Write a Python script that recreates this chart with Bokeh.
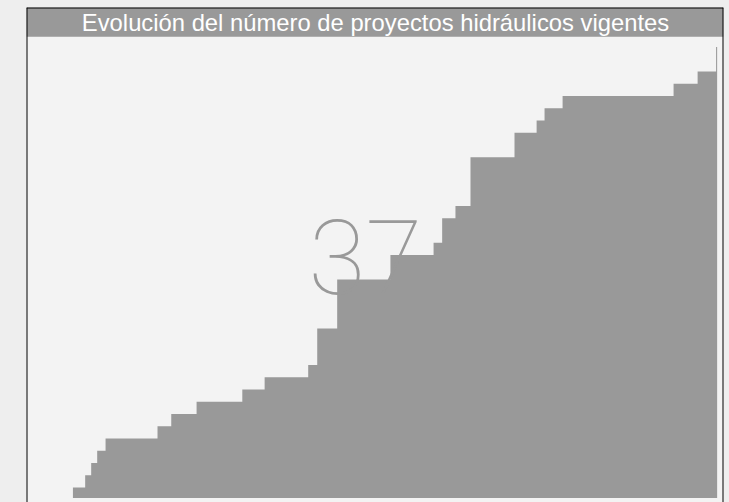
import numpy as np
from bokeh.plotting import figure
from bokeh.models import Range1d, Label, BoxAnnotation, ColumnDataSource, Span
from bokeh.embed import file_html
from bokeh.resources import INLINE

# ---- data -------------------------------------------------------------
title_text = "Evolución del número de proyectos hidráulicos vigentes"
# decimal year at which the number of active projects changes
years = [1990.02, 1990.59, 1990.87, 1991.15, 1991.54, 1993.96, 1994.60,
         1995.78, 1997.91, 1998.95, 2000.98, 2001.40, 2002.33, 2004.81,
         2006.82, 2007.22, 2007.84, 2008.54, 2010.59, 2011.62, 2011.99,
         2012.83, 2018.00, 2019.12, 2019.98, 2020.03]
# number of active projects from that date on
counts = [1, 2, 3, 4, 5, 6, 7, 8, 9, 10, 11, 14, 18, 20, 21, 23, 24, 28,
          30, 31, 32, 33, 34, 35, 37, 37]
baseline = 0.13

# ---- styling ----------------------------------------------------------
OUTER_BG = "#eeeeee"
INNER_BG = "#f3f3f3"
GRAY = "#999999"

x_start, x_end = 1987.857, 2020.326
y_start, y_end = -0.229, 40.23

p = figure(width=729, height=502, output_backend="svg", toolbar_location=None,
           x_range=Range1d(x_start, x_end), y_range=Range1d(y_start, y_end),
           min_border_left=26, min_border_right=6, min_border_top=7,
           min_border_bottom=0)
p.axis.visible = False
p.grid.visible = False
p.background_fill_color = INNER_BG
p.border_fill_color = OUTER_BG
p.outline_line_color = None

src = ColumnDataSource(dict(x=years, y1=[baseline] * len(years), y2=counts))

# big current value (drawn first; same colour as the area)
p.add_layout(Label(x=2003.65, y=19.80, text=str(counts[-1]),
                   text_font="Roboto Thin", text_font_size="104px",
                   text_color=GRAY, text_align="center",
                   text_baseline="alphabetic"))

p.varea_step(x="x", y1="y1", y2="y2", step_mode="after", source=src,
             fill_color=GRAY, fill_alpha=1.0)

# title band
p.add_layout(BoxAnnotation(bottom=37.83, fill_color=GRAY, fill_alpha=1.0,
                           line_color=None, level="overlay"))
p.add_layout(Label(x=2004.115, y=39.01, text=title_text,
                   text_font="Liberation Sans", text_font_size="23.8px",
                   text_color="white", text_align="center",
                   text_baseline="alphabetic", level="overlay"))

# box border: left, right and top (the box continues below the view)
for loc, dim in [(x_start, "height"), (x_end, "height"), (y_end, "width")]:
    p.add_layout(Span(location=loc, dimension=dim, line_color="black",
                      line_width=2, level="overlay"))

html = file_html(p, INLINE, "Proyectos hidráulicos")
html = html.replace("</head>", "<style>html,body{background:%s;}</style></head>" % OUTER_BG)
open("out.html", "w").write(html)
